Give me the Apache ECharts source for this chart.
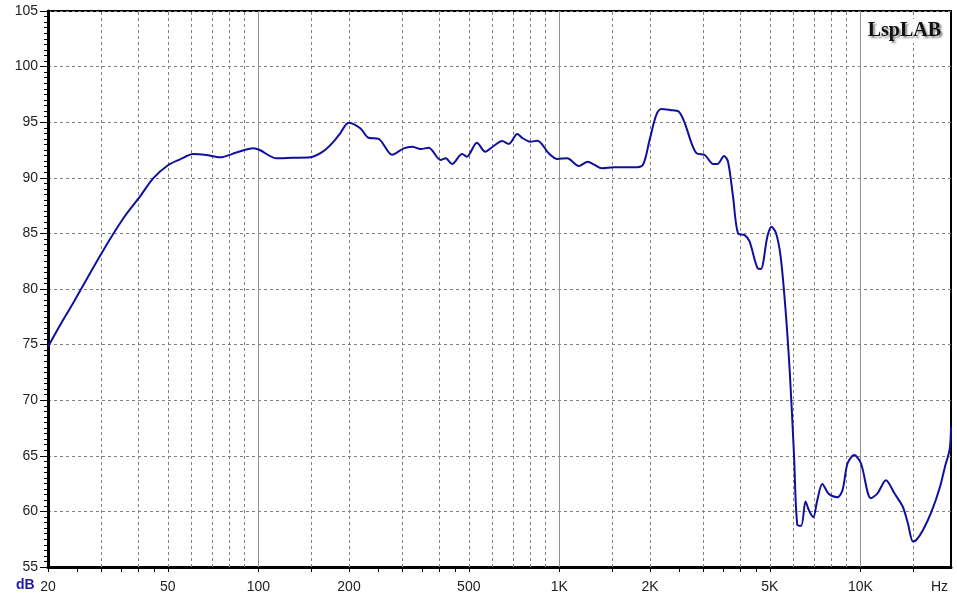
<!DOCTYPE html>
<html><head><meta charset="utf-8">
<script src="https://cdn.jsdelivr.net/npm/echarts@6/dist/echarts.min.js"></script>
<style>html,body{margin:0;padding:0;background:#fff}#c{width:957px;height:596px}</style>
</head><body><div id="c"></div>
<script>
const freqHz = [20,22,24.2,30.1,35.6,40.4,44.7,50.2,54.9,60.8,67,74.6,85,96.3,101,115,130,148.6,164.6,177.7,187,199.3,218,232,251,278,304,324,346,368,403,419,440,475,493,532,567,605,645,679,725,752,800,846,922,984,1061,1160,1243,1300,1385,1515,1770,1893,1993,2099,2181,2326,2494,2611,2749,2857,3043,3243,3350,3525,3633,3775,3921,4124,4280,4556,4670,4907,5058,5234,5434,5642,5830,6015,6170,6360,6573,6745,6973,7190,7472,7860,8383,8718,9067,9537,10040,10836,11402,12160,12970,13830,14380,14950,15340,16150,17230,18380,19090,19800,20000];
const splDb = [74.8,76.8,78.7,83.2,86.36,88.3,89.95,91.15,91.66,92.14,92.05,91.84,92.3,92.65,92.5,91.75,91.8,91.84,92.4,93.25,94.0,94.96,94.45,93.6,93.5,92.07,92.65,92.8,92.58,92.7,91.6,91.75,91.24,92.14,91.9,93.16,92.35,92.86,93.3,93.04,93.94,93.6,93.25,93.34,92.2,91.7,91.75,91.06,91.45,91.2,90.85,90.94,90.94,91.15,93.4,95.65,96.19,96.1,95.95,94.9,93.1,92.2,92.05,91.24,91.24,91.96,91.45,88.3,85.0,84.85,84.3,81.86,81.8,84.7,85.6,85.1,82.9,78.1,72.4,65.2,58.8,58.7,60.9,60.1,59.47,61.0,62.46,61.56,61.27,61.9,64.33,65.07,64.33,61.18,61.63,62.8,61.63,60.42,58.93,57.3,57.43,58.33,59.97,62.2,64.0,65.6,67.6];
const xLabelValues = [20,50,100,200,500,1000,2000,5000,10000];
const xTickValues = [20,25,30,35,40,45,50,100,150,200,250,300,350,400,450,500,1000,1500,2000,2500,3000,3500,4000,4500,5000,10000,15000];
const xDashedGrid = [30,40,50,60,70,80,90,150,200,300,400,500,600,700,800,900,1500,2000,3000,4000,5000,6000,7000,8000,9000,15000];
const xSolidGrid = [100,1000,10000];
const yMin = 55, yMax = 105, yStep = 5;
const brand = 'LspLAB';
const yUnit = 'dB';
const xUnit = 'Hz';

const points = freqHz.map((f, i) => [f, splDb[i]]);
const fmt = v => v >= 1000 ? (v / 1000) + 'K' : String(v);
const gridLines = xDashedGrid.map(v => ({xAxis: v, lineStyle: {type: [3, 3], color: '#808080', width: 1}}))
  .concat(xSolidGrid.map(v => ({xAxis: v, lineStyle: {type: 'solid', color: '#909090', width: 1}})));

const chart = echarts.init(document.getElementById('c'), null, {renderer: 'canvas'});
chart.setOption({
  animation: false,
  backgroundColor: '#fff',
  textStyle: {fontFamily: 'Liberation Sans'},
  title: {
    text: brand, right: 13, top: 19, padding: [2, 3],
    backgroundColor: '#fff',
    textStyle: {fontFamily: 'Liberation Serif', fontWeight: 'bold', fontSize: 20, color: '#111',
      textShadowColor: 'rgba(0,0,0,0.45)', textShadowBlur: 2, textShadowOffsetX: 2, textShadowOffsetY: 2}
  },
  graphic: [{
    type: 'text', left: 16, top: 578, silent: true,
    style: {text: yUnit, fontSize: 14, fontWeight: 'bold', fill: '#1a1aa6', fontFamily: 'Liberation Sans'}
  }],
  grid: {left: 48, right: 6, top: 11, bottom: 29, show: true, borderColor: '#000', borderWidth: 2,
    containLabel: false, outerBoundsMode: 'none'},
  xAxis: {
    type: 'log', logBase: 10, min: 20, max: 20000,
    axisLine: {show: true, onZero: false, lineStyle: {color: '#000', width: 3}},
    axisTick: {show: true, customValues: xTickValues, length: 5, lineStyle: {color: '#000', width: 1}},
    axisLabel: {show: true, customValues: xLabelValues, formatter: fmt, margin: 13, fontSize: 14, color: '#222', fontFamily: 'Liberation Sans'},
    splitLine: {show: false}, minorTick: {show: false}, minorSplitLine: {show: false},
    name: xUnit, nameLocation: 'end', nameGap: -20, nameMoveOverlap: false,
    nameTextStyle: {fontSize: 14, color: '#222', fontFamily: 'Liberation Sans', align: 'left', verticalAlign: 'top', padding: [13, 0, 0, 0]}
  },
  yAxis: {
    type: 'value', min: yMin, max: yMax, interval: yStep,
    axisLine: {show: true, onZero: false, lineStyle: {color: '#000', width: 3}},
    axisTick: {show: true, length: 8, lineStyle: {color: '#000', width: 1}},
    minorTick: {show: true, splitNumber: 10, length: 4, lineStyle: {color: '#000', width: 1}},
    axisLabel: {margin: 10, fontSize: 14, color: '#222', fontFamily: 'Liberation Sans'},
    splitLine: {show: true, lineStyle: {color: '#808080', type: [3, 3], width: 1}}
  },
  series: [{
    type: 'line', data: points, showSymbol: false, symbol: 'none', smooth: 0.3,
    lineStyle: {color: '#10109c', width: 2}, z: 3,
    markLine: {silent: true, symbol: ['none', 'none'], label: {show: false}, z: 1, animation: false, data: gridLines}
  }]
});
</script></body></html>
